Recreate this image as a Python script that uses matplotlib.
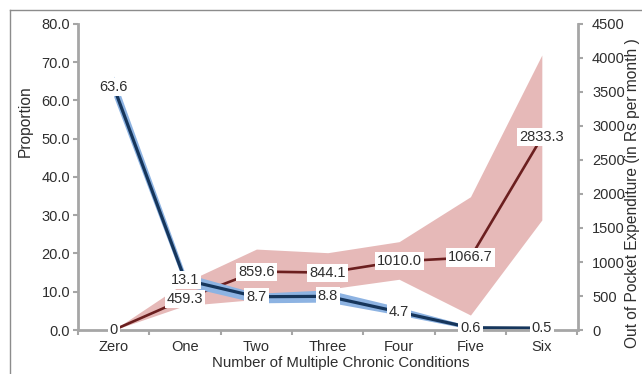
import matplotlib
matplotlib.use("Agg")
import matplotlib.pyplot as plt
from matplotlib.lines import Line2D
from matplotlib.ticker import FixedLocator, FormatStrFormatter

plt.rcParams['font.family'] = ['Liberation Sans', 'DejaVu Sans']

categories = ["Zero", "One", "Two", "Three", "Four", "Five", "Six"]
proportion = [63.6, 13.1, 8.7, 8.8, 4.7, 0.6, 0.5]
prop_low = [61.0, 11.5, 7.1, 7.3, 3.9, 0.2, 0.3]
prop_high = [66.4, 14.8, 9.6, 10.5, 6.0, 1.0, 0.7]
oop = [0, 459.3, 859.6, 844.1, 1010.0, 1066.7, 2833.3]
oop_low = [0, 360, 450, 600, 746, 220, 1618]
oop_high = [0, 700, 1190, 1137, 1299, 1960, 4044]
prop_labels = ["63.6", "13.1", "8.7", "8.8", "4.7", "0.6", "0.5"]
oop_labels = ["0", "459.3", "859.6", "844.1", "1010.0", "1066.7", "2833.3"]

W, H = 642, 374
fig = plt.figure(figsize=(W / 100, H / 100), dpi=100)
ax1 = fig.add_axes([78 / W, 1 - 330 / H, (577.5 - 78) / W, (330 - 24) / H])
ax2 = ax1.twinx()
ax1.set_zorder(ax2.get_zorder() + 1)
ax1.patch.set_visible(False)

x = list(range(len(categories)))
gray = '#a6a6a6'
txt = '#2e2e2e'

# red series (right axis)
ax2.fill_between(x, oop_low, oop_high, color='#e6b9b8', lw=0, zorder=1)
ax2.plot(x, oop, color='#6b1f1f', lw=1.9, zorder=2)

# blue series (left axis)
ax1.fill_between(x, prop_low, prop_high, color='#8db3e2', lw=0, zorder=1)
ax1.plot(x, proportion, color='#16365c', lw=2.3, zorder=2)

ax1.set_xlim(-0.5, 6.5)
ax1.set_ylim(0, 80)
ax2.set_ylim(0, 4500)

bbox = dict(boxstyle='square,pad=0.14', fc='white', ec='none')
for xi, v, s in zip(x, proportion, prop_labels):
    ax1.text(xi, v, s, ha='center', va='center', fontsize=10.5, color=txt,
             bbox=bbox, zorder=6, clip_on=False)
for xi, v, s in zip(x, oop, oop_labels):
    ax1.text(xi, v, s, ha='center', va='center', fontsize=10.5, color=txt,
             bbox=bbox, zorder=6, clip_on=False, transform=ax2.transData)

# spines
for ax in (ax1, ax2):
    for sp in ax.spines.values():
        sp.set_visible(False)
ax1.spines['left'].set_visible(True)
ax1.spines['bottom'].set_visible(True)
ax2.spines['right'].set_visible(True)
for sp in (ax1.spines['left'], ax1.spines['bottom'], ax2.spines['right']):
    sp.set_color(gray)
    sp.set_linewidth(2)

# ticks
ax1.set_yticks(range(0, 81, 10))
ax1.yaxis.set_major_formatter(FormatStrFormatter('%.1f'))
ax1.tick_params(axis='y', direction='out', length=3.5, width=1.5, color=gray,
                labelsize=10.5, labelcolor=txt, pad=2)
ax2.set_yticks(range(0, 4501, 500))
ax2.tick_params(axis='y', direction='out', length=3.5, width=1.5, color=gray,
                labelsize=10.5, labelcolor=txt, pad=7)
ax1.set_xticks(x)
ax1.set_xticklabels(categories)
ax1.xaxis.set_minor_locator(FixedLocator([i - 0.5 for i in range(len(categories) + 1)]))
ax1.tick_params(axis='x', which='major', length=0, labelsize=10.5, labelcolor=txt, pad=7)
ax1.tick_params(axis='x', which='minor', direction='out', length=3.5, width=1.5, color=gray)

fig.text(341 / W, 1 - 363 / H, "Number of Multiple Chronic Conditions", ha='center',
         va='center', fontsize=10.8, color=txt)
fig.text(25 / W, 1 - 121 / H, "Proportion", ha='center', va='center', rotation=90,
         fontsize=11.2, color=txt)
fig.text(633 / W, 1 - 193 / H, "Out of Pocket Expenditure (in Rs per month )", ha='center',
         va='center', rotation=90, fontsize=11.2, color=txt)

# outer chart frame (left and top edges visible)
fx, fy = 9.5 / W, 1 - 9.5 / H
fig.lines.append(Line2D([fx, fx], [0, fy], transform=fig.transFigure, color='#8c8c8c', lw=1))
fig.lines.append(Line2D([fx, 1], [fy, fy], transform=fig.transFigure, color='#8c8c8c', lw=1))

fig.savefig("out.png", dpi=100)
